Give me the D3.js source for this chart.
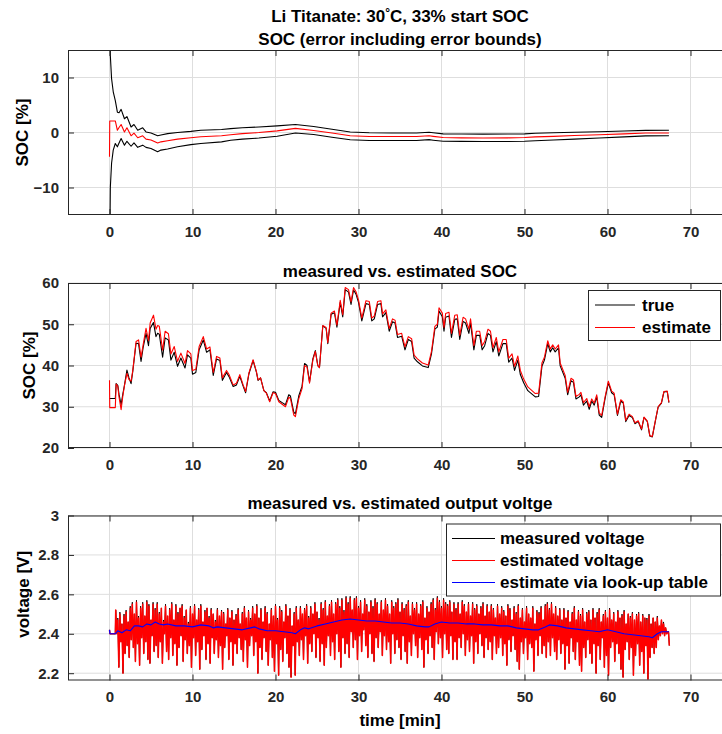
<!DOCTYPE html>
<html>
<head>
<meta charset="utf-8">
<script src="https://cdn.jsdelivr.net/npm/d3@7"></script>
<style>
  body { margin: 0; background: #fff; }
  text { font-family: "Liberation Sans", Arial, Helvetica, sans-serif; font-weight: bold; }
</style>
</head>
<body>
<svg id="fig" width="722" height="734"></svg>
<script>
// ---------------- data ----------------
const timeTicks = [0, 10, 20, 30, 40, 50, 60, 70];
const errTicks = [-10, 0, 10];
const socTicks = [20, 30, 40, 50, 60];
const voltTicks = [2.2, 2.4, 2.6, 2.8, 3];
const voltTickLabels = ["2.2", "2.4", "2.6", "2.8", "3"];

// SOC estimation error [%] and its error bounds, time in minutes
const errT = [0,0.03,0.1,0.25,0.45,0.7,0.95,1.15,1.4,1.8,2.1,2.6,2.95,3.4,4.0,4.4,5.0,5.8,6.2,7.0,8.2,9.8,11.0,13.5,14.6,16.0,18.0,20.2,22.4,24.6,26.8,29.0,31.3,34.0,37.0,38.5,39.0,40.2,42.4,45.0,48.0,50.0,51.3,53.5,56.0,59.0,62.0,64.6,67.4];
const errSOC = [-4.4,2.1,2.1,2.1,2.1,2.1,0.4,0.9,1.45,0.1,0.85,-0.6,-0.1,-0.96,-0.6,-1.2,-1.35,-1.9,-1.7,-1.5,-1.2,-0.96,-0.78,-0.6,-0.4,-0.2,0.0,0.3,0.75,0.36,-0.1,-0.6,-0.73,-0.72,-0.73,-0.6,-0.7,-0.9,-0.97,-1.0,-0.97,-0.9,-0.8,-0.7,-0.55,-0.4,-0.25,-0.1,-0.1];
const errUpper = [40,25,14,9.8,7.4,5.8,3.7,3.6,4.2,2.5,2.9,1.0,1.45,0.4,0.85,0.1,-0.1,-0.6,-0.45,-0.2,0.0,0.2,0.4,0.55,0.7,0.85,1.0,1.2,1.45,1.1,0.6,0.1,-0.05,-0.08,-0.1,0.05,-0.05,-0.25,-0.28,-0.3,-0.28,-0.25,-0.15,-0.05,0.05,0.15,0.28,0.38,0.4];
const errLower = [-40,-22,-10,-5.6,-3.2,-2.0,-2.6,-1.9,-1.1,-2.3,-1.6,-2.5,-1.9,-2.7,-2.3,-2.7,-2.9,-3.5,-3.2,-3.0,-2.6,-2.2,-2.0,-1.7,-1.4,-1.2,-1.0,-0.67,-0.1,-0.36,-0.85,-1.33,-1.45,-1.45,-1.45,-1.3,-1.4,-1.6,-1.62,-1.65,-1.63,-1.6,-1.5,-1.35,-1.2,-1.0,-0.8,-0.62,-0.6];

// measured (true) and estimated SOC [%]
const socT = [
  0,0.03,0.7,0.8,1.0,1.15,1.4,1.6,1.8,2.1,
  2.35,2.6,2.8,3.2,3.5,3.8,4.05,4.4,4.7,4.9,
  5.3,5.6,5.8,6.0,6.4,6.7,7.1,7.4,7.8,8.2,
  8.6,9.1,9.4,9.8,10.0,10.4,10.8,11.3,11.7,12.1,
  12.5,12.9,13.3,13.6,14.1,14.4,14.9,15.3,15.7,16.1,
  16.4,16.8,17.3,17.7,17.9,18.2,18.6,18.9,19.3,19.7,
  20.0,20.4,20.8,21.2,21.6,21.8,22.2,22.4,22.8,23.2,
  23.5,23.8,24.1,24.5,24.8,25.1,25.3,25.7,26.1,26.3,
  26.7,27.1,27.4,27.8,28.1,28.4,28.8,29.1,29.4,29.7,
  30.0,30.4,30.9,31.3,31.6,31.9,32.3,32.7,32.9,33.3,
  33.7,34.1,34.4,34.7,35.2,35.6,36.0,36.4,36.7,37.1,
  37.7,38.4,38.8,39.2,39.5,39.7,40.1,40.3,40.5,40.9,
  41.2,41.6,41.9,42.2,42.6,42.9,43.3,43.5,43.9,44.2,
  44.6,44.9,45.2,45.6,45.9,46.2,46.6,46.9,47.4,47.8,
  48.1,48.5,48.8,49.2,49.5,49.9,50.4,51.3,51.7,52.1,
  52.4,52.8,53.1,53.4,53.7,54.1,54.3,54.6,54.9,55.2,
  55.6,55.9,56.2,56.6,56.8,57.1,57.5,57.8,58.1,58.4,
  58.7,59.0,59.3,59.7,60.1,60.5,60.8,61.2,61.6,61.9,
  62.2,62.6,63.0,63.3,63.7,64.1,64.4,64.8,65.1,65.4,
  65.8,66.1,66.5,66.8,67.2,67.4];
const socTrue = [
  32.0,32.0,32.0,35.6,35.2,33.0,30.5,33.0,35.2,38.9,
  37.0,35.6,38.5,45.4,45.3,41.0,44.3,47.8,44.8,49.0,
  50.4,47.0,47.8,47.6,42.0,46.7,46.2,41.3,43.2,39.8,
  41.8,39.4,42.6,41.8,37.9,38.3,43.8,46.2,43.2,43.8,
  37.6,41.6,41.2,36.4,38.3,37.3,34.9,35.3,37.4,35.0,
  33.4,38.0,41.2,38.4,36.4,37.0,33.9,33.4,31.4,33.6,
  33.5,31.5,31.0,30.5,32.9,32.6,28.7,28.3,32.6,35.0,
  40.5,40.0,36.0,41.6,43.6,40.0,39.5,49.6,49.0,45.3,
  52.4,52.8,49.3,55.3,51.8,58.4,57.8,54.8,58.3,57.3,
  55.3,50.8,55.0,54.8,50.8,51.3,54.8,55.0,51.8,52.8,
  48.3,50.6,50.3,46.8,47.1,43.8,46.3,45.8,41.8,40.9,
  39.9,39.5,42.9,48.8,49.3,53.2,51.8,48.3,51.7,52.0,
  46.8,51.2,51.3,46.3,50.7,50.3,47.8,50.3,43.8,47.3,
  47.3,43.8,44.8,47.8,47.3,43.3,45.8,42.3,45.3,45.3,
  40.8,41.8,38.8,41.3,37.8,35.8,33.9,32.4,32.5,39.8,
  41.3,45.3,43.3,44.3,43.3,44.3,39.9,38.4,36.9,32.9,
  36.3,35.9,31.9,32.4,32.9,30.4,31.4,29.4,31.4,30.4,
  32.4,28.0,27.4,31.9,35.8,33.4,32.9,27.9,31.4,30.9,
  26.4,27.9,27.4,25.9,26.4,24.4,27.4,26.4,22.9,22.7,
  26.9,29.9,30.9,33.6,33.7,31.0];
const socEst = [
  36.4,29.8,29.8,35.5,34.9,32.3,29.3,32.5,35.1,38.1,
  36.6,36.2,38.7,45.8,46.2,42.0,45.0,49.0,46.0,50.3,
  52.2,48.8,49.7,49.5,43.7,48.3,47.7,42.8,44.6,41.0,
  43.0,40.5,43.6,42.8,38.8,39.1,44.6,47.0,44.0,44.5,
  38.3,42.2,41.8,37.0,38.8,37.8,35.3,35.7,37.8,35.3,
  33.7,38.2,41.4,38.5,36.5,37.0,33.9,33.3,31.2,33.4,
  33.2,31.2,30.6,30.0,32.3,32.0,28.0,27.6,31.9,34.4,
  40.0,39.6,35.7,41.3,43.4,39.9,39.5,49.7,49.2,45.5,
  52.7,53.2,49.8,55.8,52.3,58.9,58.4,55.4,58.9,57.9,
  55.9,51.5,55.7,55.5,51.5,52.0,55.5,55.7,52.5,53.5,
  49.0,51.3,51.0,47.5,47.8,44.5,47.0,46.5,42.5,41.6,
  40.6,40.1,43.5,49.5,50.0,54.0,52.7,49.2,52.6,52.9,
  47.8,52.2,52.3,47.3,51.7,51.3,48.8,51.3,44.8,48.3,
  48.3,44.8,45.8,48.8,48.3,44.3,46.8,43.3,46.3,46.3,
  41.8,42.8,39.8,42.3,38.8,36.7,34.8,33.2,33.3,40.6,
  42.0,46.0,44.0,45.0,44.0,45.0,40.6,39.1,37.6,33.5,
  36.9,36.5,32.5,33.0,33.5,31.0,32.0,30.0,31.9,30.9,
  32.9,28.5,27.9,32.3,36.2,33.8,33.3,28.2,31.7,31.2,
  26.7,28.2,27.6,26.1,26.6,24.6,27.5,26.5,23.0,22.8,
  27.0,30.0,31.0,33.7,33.8,31.1];

// terminal voltage [V]: current pulses every 0.25 min starting at 0.75 min,
// each pulse has a peak followed by a dip
const pulseStart = 0.75, pulseStep = 0.25;
const pulsePeakEst = [
  2.52,2.47,2.50,2.45, 2.49,2.51,2.46,2.53, 2.55,2.50,2.56,2.48, 2.53,2.55,2.49,2.56,
  2.54,2.47,2.55,2.52, 2.55,2.50,2.53,2.46, 2.54,2.49,2.52,2.55, 2.47,2.54,2.50,2.53,
  2.54,2.48,2.52,2.45, 2.53,2.50,2.54,2.47, 2.52,2.54,2.46,2.51, 2.53,2.48,2.52,2.50,
  2.46,2.52,2.49,2.51, 2.50,2.45,2.52,2.48, 2.51,2.47,2.49,2.52, 2.45,2.50,2.53,2.48,
  2.51,2.47,2.53,2.50, 2.54,2.48,2.52,2.46, 2.53,2.50,2.45,2.52, 2.49,2.54,2.47,2.53,
  2.51,2.46,2.54,2.49, 2.52,2.44,2.50,2.53, 2.47,2.53,2.50,2.52, 2.54,2.48,2.53,2.50,
  2.55,2.51,2.47,2.55, 2.52,2.56,2.49,2.54, 2.56,2.50,2.55,2.57, 2.53,2.57,2.51,2.58,
  2.55,2.58,2.52,2.57, 2.58,2.53,2.56,2.50, 2.57,2.54,2.51,2.56, 2.53,2.57,2.55,2.50,
  2.56,2.52,2.57,2.54, 2.50,2.56,2.53,2.55, 2.57,2.51,2.55,2.52, 2.54,2.56,2.49,2.55,
  2.52,2.55,2.50,2.54, 2.56,2.48,2.53,2.51, 2.55,2.57,2.52,2.58, 2.56,2.53,2.57,2.55,
  2.54,2.56,2.51,2.55, 2.52,2.55,2.50,2.56, 2.54,2.51,2.55,2.49, 2.55,2.52,2.54,2.50,
  2.53,2.55,2.49,2.54, 2.51,2.54,2.52,2.48, 2.54,2.50,2.53,2.51, 2.49,2.54,2.52,2.47,
  2.53,2.50,2.54,2.48, 2.52,2.46,2.53,2.50, 2.48,2.53,2.45,2.51, 2.50,2.53,2.47,2.54,
  2.55,2.52,2.55,2.50, 2.53,2.49,2.52,2.47, 2.52,2.48,2.51,2.46, 2.50,2.53,2.47,2.51,
  2.49,2.52,2.46,2.50, 2.51,2.47,2.52,2.48, 2.50,2.52,2.46,2.49, 2.51,2.48,2.52,2.47,
  2.50,2.46,2.51,2.48, 2.49,2.51,2.45,2.50, 2.48,2.50,2.47,2.49, 2.50,2.46,2.49,2.48,
  2.47,2.49,2.45,2.48, 2.46,2.48,2.44,2.47, 2.45,2.43];
const pulsePeakMeas = [
  2.52,2.48,2.51,2.45, 2.50,2.52,2.46,2.54, 2.56,2.50,2.57,2.49, 2.54,2.56,2.49,2.57,
  2.55,2.47,2.56,2.53, 2.56,2.51,2.53,2.47, 2.55,2.49,2.53,2.56, 2.47,2.55,2.51,2.53,
  2.55,2.49,2.52,2.46, 2.54,2.50,2.55,2.47, 2.53,2.55,2.46,2.52, 2.53,2.49,2.53,2.50,
  2.47,2.53,2.49,2.52, 2.51,2.45,2.53,2.48, 2.52,2.47,2.50,2.53, 2.45,2.51,2.54,2.48,
  2.52,2.48,2.54,2.50, 2.55,2.48,2.53,2.46, 2.54,2.51,2.45,2.53, 2.49,2.55,2.48,2.54,
  2.52,2.46,2.55,2.49, 2.53,2.44,2.51,2.54, 2.47,2.54,2.50,2.53, 2.55,2.49,2.54,2.50,
  2.56,2.51,2.48,2.56, 2.53,2.57,2.49,2.55, 2.57,2.50,2.56,2.58, 2.54,2.58,2.52,2.59,
  2.56,2.59,2.52,2.58, 2.59,2.54,2.57,2.50, 2.58,2.55,2.51,2.57, 2.54,2.58,2.56,2.50,
  2.57,2.52,2.58,2.55, 2.50,2.57,2.54,2.56, 2.58,2.51,2.56,2.53, 2.55,2.57,2.49,2.56,
  2.53,2.56,2.50,2.55, 2.57,2.48,2.54,2.51, 2.56,2.58,2.53,2.59, 2.57,2.54,2.58,2.56,
  2.55,2.57,2.51,2.56, 2.53,2.56,2.50,2.57, 2.55,2.51,2.56,2.49, 2.56,2.53,2.55,2.50,
  2.54,2.56,2.49,2.55, 2.51,2.55,2.53,2.48, 2.55,2.50,2.54,2.52, 2.49,2.55,2.53,2.47,
  2.54,2.51,2.55,2.48, 2.53,2.46,2.54,2.50, 2.48,2.54,2.45,2.52, 2.51,2.54,2.47,2.55,
  2.56,2.53,2.56,2.50, 2.54,2.49,2.53,2.47, 2.53,2.48,2.52,2.46, 2.51,2.54,2.47,2.52,
  2.50,2.53,2.46,2.51, 2.52,2.47,2.53,2.48, 2.51,2.53,2.46,2.50, 2.52,2.48,2.53,2.47,
  2.51,2.46,2.52,2.48, 2.50,2.52,2.45,2.50, 2.49,2.51,2.47,2.50, 2.51,2.46,2.50,2.48,
  2.48,2.50,2.45,2.48, 2.46,2.49,2.44,2.47, 2.46,2.43];
// dips, where measured and estimated voltage coincide
const pulseDip = [
  2.40,2.23,2.36,2.20, 2.30,2.34,2.28,2.37, 2.33,2.26,2.35,2.24, 2.38,2.30,2.36,2.27,
  2.25,2.39,2.31,2.34, 2.28,2.36,2.25,2.40, 2.31,2.27,2.38,2.29, 2.35,2.24,2.33,2.39,
  2.26,2.37,2.30,2.34, 2.23,2.38,2.29,2.36, 2.22,2.32,2.39,2.27, 2.35,2.25,2.38,2.30,
  2.37,2.28,2.34,2.22, 2.33,2.39,2.27,2.36, 2.24,2.35,2.30,2.38, 2.32,2.26,2.37,2.23,
  2.34,2.39,2.29,2.36, 2.20,2.33,2.27,2.38, 2.31,2.24,2.37,2.28, 2.21,2.35,2.19,2.32,
  2.26,2.38,2.30,2.23, 2.18,2.34,2.19,2.36, 2.29,2.37,2.27,2.39, 2.25,2.35,2.31,2.40,
  2.28,2.38,2.26,2.35, 2.24,2.33,2.39,2.29, 2.36,2.27,2.40,2.31, 2.23,2.38,2.30,2.35,
  2.28,2.41,2.33,2.37, 2.27,2.39,2.31,2.42, 2.34,2.28,2.40,2.30, 2.26,2.38,2.33,2.41,
  2.29,2.39,2.32,2.36, 2.25,2.40,2.30,2.37, 2.33,2.27,2.39,2.31, 2.25,2.36,2.29,2.40,
  2.34,2.28,2.38,2.32, 2.23,2.37,2.30,2.39, 2.33,2.27,2.41,2.35, 2.38,2.28,2.40,2.32,
  2.30,2.39,2.27,2.36, 2.27,2.38,2.33,2.40, 2.29,2.37,2.31,2.39, 2.25,2.36,2.30,2.40,
  2.34,2.28,2.38,2.32, 2.36,2.27,2.39,2.30, 2.33,2.38,2.29,2.35, 2.24,2.37,2.31,2.39,
  2.32,2.26,2.22,2.36, 2.30,2.38,2.27,2.35, 2.33,2.21,2.37,2.29, 2.39,2.30,2.34,2.28,
  2.36,2.29,2.38,2.31, 2.27,2.37,2.30,2.35, 2.22,2.34,2.25,2.38, 2.31,2.27,2.36,2.24,
  2.21,2.33,2.28,2.37, 2.30,2.25,2.35,2.20, 2.34,2.27,2.38,2.23, 2.29,2.19,2.33,2.36,
  2.26,2.35,2.30,2.22, 2.18,2.32,2.36,2.27, 2.33,2.19,2.29,2.35, 2.24,2.31,2.20,2.34,
  2.17,2.28,2.33,2.30, 2.33,2.37,2.39,2.40, 2.39,2.40];
// rest before the first pulse and after the last one
const voltHeadT = [0, 0.05, 0.7];
const voltHeadV = [2.42, 2.40, 2.40];
const voltTailT = [67.25, 67.35, 67.45];
const voltTailV = [2.41, 2.41, 2.34];

// voltage estimated from the SOC look-up table [V]
const lutT = [0,0.05,0.7,1.0,1.5,2.0,2.5,3.0,3.5,4.0,4.5,5.0,5.5,6.0,6.5,7.0,8.0,9.0,10.0,11.0,12.0,12.5,13.0,14.0,15.0,16.0,17.0,17.5,18.0,19.0,20.0,21.0,22.0,22.4,23.0,23.5,24.0,25.0,26.0,27.0,28.0,29.0,30.0,31.0,32.0,33.0,34.0,35.0,36.0,37.0,38.0,38.5,39.2,40.0,41.0,42.0,43.0,44.0,45.0,46.0,47.0,48.0,49.0,50.0,51.0,51.7,52.5,53.0,54.0,55.0,56.0,57.0,58.0,59.0,60.0,61.0,62.0,63.0,64.0,65.0,65.4,66.0,66.5,67.4];
const lutV = [2.42,2.40,2.40,2.415,2.405,2.42,2.415,2.44,2.44,2.435,2.45,2.445,2.46,2.45,2.445,2.45,2.44,2.44,2.435,2.445,2.44,2.43,2.435,2.43,2.425,2.42,2.43,2.435,2.425,2.415,2.415,2.41,2.405,2.40,2.42,2.43,2.425,2.44,2.45,2.46,2.47,2.475,2.47,2.465,2.465,2.46,2.455,2.455,2.45,2.44,2.435,2.435,2.45,2.46,2.455,2.455,2.45,2.45,2.445,2.445,2.44,2.44,2.43,2.425,2.42,2.42,2.435,2.445,2.44,2.43,2.425,2.42,2.415,2.41,2.42,2.41,2.40,2.395,2.39,2.385,2.38,2.40,2.41,2.41];

// ---------------- layout ----------------
const AX = "#262626", GRID = "#dedede";
const X0 = 68, X1 = 732, PH = 165;
const x = d3.scaleLinear().domain([-5, 75]).range([X0, X1]);
const svg = d3.select("#fig");
svg.append("rect").attr("width", 722).attr("height", 734).attr("fill", "#fff");
const defs = svg.append("defs");

function zip(ts, vs) { return ts.map((t, i) => [t, vs[i]]); }

function pulseSeries(peaks, dips) {
  const pts = zip(voltHeadT, voltHeadV);
  const n = Math.min(peaks.length, dips.length);
  for (let i = 0; i < n; i++) {
    const t = pulseStart + i * pulseStep;
    pts.push([t, peaks[i]]);
    pts.push([t + pulseStep / 2, dips[i]]);
  }
  return pts.concat(zip(voltTailT, voltTailV));
}

function panel(id, top, yDomain, yTicks, yFmt) {
  const y = d3.scaleLinear().domain(yDomain).range([top + PH, top]);
  const g = svg.append("g");
  // grid
  g.append("g").selectAll("line").data(timeTicks).join("line")
    .attr("x1", d => x(d)).attr("x2", d => x(d)).attr("y1", top).attr("y2", top + PH)
    .attr("stroke", GRID).attr("stroke-width", 1);
  g.append("g").selectAll("line").data(yTicks).join("line")
    .attr("x1", X0).attr("x2", X1).attr("y1", d => y(d)).attr("y2", d => y(d))
    .attr("stroke", GRID).attr("stroke-width", 1);
  defs.append("clipPath").attr("id", "clip-" + id).append("rect")
    .attr("x", X0).attr("y", top).attr("width", X1 - X0).attr("height", PH);
  const plot = g.append("g").attr("clip-path", `url(#clip-${id})`);
  const axes = () => {
    const styleAxis = sel => {
      sel.select(".domain").remove();
      sel.selectAll(".tick line").attr("stroke", AX);
      sel.selectAll(".tick text").attr("fill", AX).attr("font-size", 15)
        .style("font-family", '"Liberation Sans", Arial, sans-serif').style("font-weight", "bold");
    };
    g.append("g").attr("transform", `translate(0,${top + PH})`)
      .call(d3.axisBottom(x).tickValues(timeTicks).tickSizeInner(-6).tickSizeOuter(0).tickPadding(11))
      .call(styleAxis);
    g.append("g").attr("transform", `translate(0,${top})`)
      .call(d3.axisTop(x).tickValues(timeTicks).tickSizeInner(-6).tickSizeOuter(0).tickFormat(() => ""))
      .call(styleAxis);
    g.append("g").attr("transform", `translate(${X0},0)`)
      .call(d3.axisLeft(y).tickValues(yTicks).tickFormat(yFmt).tickSizeInner(-6).tickSizeOuter(0).tickPadding(9))
      .call(styleAxis);
    g.append("g").attr("transform", `translate(${X1},0)`)
      .call(d3.axisRight(y).tickValues(yTicks).tickSizeInner(-6).tickSizeOuter(0).tickFormat(() => ""))
      .call(styleAxis);
    g.append("rect").attr("x", X0 + 0.5).attr("y", top + 0.5)
      .attr("width", X1 - X0 - 1).attr("height", PH - 1)
      .attr("fill", "none").attr("stroke", AX).attr("stroke-width", 1);
  };
  return { g, plot, y, top, axes };
}

function drawLine(p, pts, color, w) {
  const line = d3.line().x(d => x(d[0])).y(d => p.y(d[1]));
  p.plot.append("path").datum(pts).attr("d", line)
    .attr("fill", "none").attr("stroke", color).attr("stroke-width", w || 1.1)
    .attr("stroke-linejoin", "round");
}

function title(txt, cy, size) {
  return svg.append("text").attr("x", x(35)).attr("y", cy).attr("dy", "0.35em")
    .attr("text-anchor", "middle").attr("font-size", size || 17).attr("fill", "#000").text(txt);
}
function ylabel(txt, cx, cy) {
  svg.append("text").attr("transform", `translate(${cx},${cy}) rotate(-90)`)
    .attr("dy", "0.35em").attr("text-anchor", "middle").attr("font-size", 17)
    .attr("fill", "#000").text(txt);
}
function legend(p, box, items) {
  const lg = svg.append("g");
  lg.append("rect").attr("x", box.x + 0.5).attr("y", box.y + 0.5).attr("width", box.w).attr("height", box.h)
    .attr("fill", "#fff").attr("stroke", AX).attr("stroke-width", 1);
  items.forEach((it, i) => {
    const cy = box.y + box.first + i * box.step;
    lg.append("line").attr("x1", box.lx0).attr("x2", box.lx1).attr("y1", cy).attr("y2", cy)
      .attr("stroke", it.color).attr("stroke-width", 1.1);
    lg.append("text").attr("x", box.tx).attr("y", cy).attr("dy", "0.35em")
      .attr("font-size", 17).attr("fill", "#000").text(it.label);
  });
}

// ---------- panel 1: SOC error with bounds ----------
const p1 = panel("err", 50, [-15, 15], errTicks, d3.format("d"));
drawLine(p1, zip(errT, errSOC), "#ff0000");
drawLine(p1, zip(errT, errUpper), "#000");
drawLine(p1, zip(errT, errLower), "#000");
p1.axes();
const t1 = svg.append("text").attr("x", x(35)).attr("y", 16).attr("dy", "0.35em")
  .attr("text-anchor", "middle").attr("font-size", 17).attr("fill", "#000");
t1.append("tspan").text("Li Titanate: 30");
t1.append("tspan").attr("font-size", 12).attr("dy", "-0.45em").text("°");
t1.append("tspan").attr("dy", "0.3em").text("C, 33% start SOC");
title("SOC (error including error bounds)", 39);
ylabel("SOC [%]", 22, p1.y(0));

// ---------- panel 2: measured vs. estimated SOC ----------
const p2 = panel("soc", 283, [20, 60], socTicks, d3.format("d"));
drawLine(p2, zip(socT, socTrue), "#000");
drawLine(p2, zip(socT, socEst), "#ff0000");
p2.axes();
title("measured vs. estimated SOC", 271.5);
ylabel("SOC [%]", 29, p2.y(40));
legend(p2, { x: 588, y: 290, w: 132, h: 50, first: 15, step: 22.5, lx0: 595, lx1: 635, tx: 642 },
  [{ label: "true", color: "#000" }, { label: "estimate", color: "#ff0000" }]);

// ---------- panel 3: measured vs. estimated voltage ----------
const p3 = panel("volt", 515.5, [2.163, 3], voltTicks, (d, i) => voltTickLabels[i]);
drawLine(p3, pulseSeries(pulsePeakMeas, pulseDip), "#000", 0.9);
drawLine(p3, pulseSeries(pulsePeakEst, pulseDip), "#ff0000", 1.5);
drawLine(p3, zip(lutT, lutV), "#0000ff", 1.1);
p3.axes();
title("measured vs. estimated output voltge", 503);
ylabel("voltage [V]", 23, p3.y(2.6));
svg.append("text").attr("x", x(35)).attr("y", 720).attr("dy", "0.35em")
  .attr("text-anchor", "middle").attr("font-size", 17).attr("fill", "#000").text("time [min]");
legend(p3, { x: 446, y: 523.5, w: 274, h: 72, first: 15, step: 22, lx0: 452, lx1: 495, tx: 500 },
  [{ label: "measured voltage", color: "#000" }, { label: "estimated voltage", color: "#ff0000" },
   { label: "estimate via look-up table", color: "#0000ff" }]);
</script>
</body>
</html>
